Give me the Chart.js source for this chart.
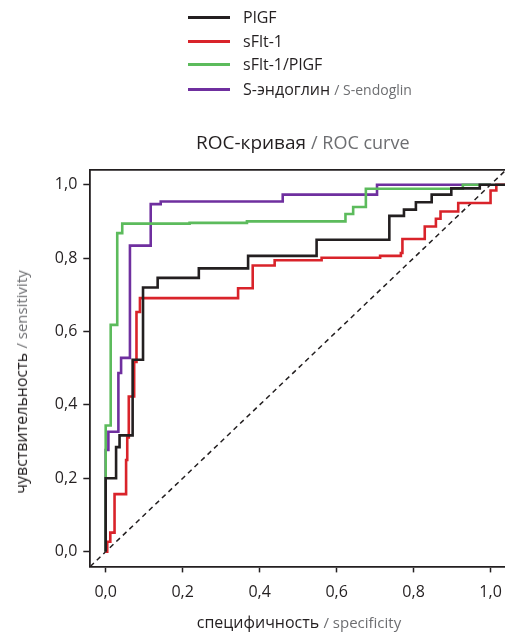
<!DOCTYPE html>
<html>
<head>
<meta charset="utf-8">
<script src="https://cdn.jsdelivr.net/npm/chart.js@4.4.1/dist/chart.umd.min.js"></script>
<style>
    html, body { margin: 0; padding: 0; width: 505px; height: 635px; overflow: hidden; background: #fff; }
    body { position: relative; font-family: 'Open Sans', sans-serif; color: #231f20; }
    #wrap { position: absolute; left: 0; top: 0; width: 512px; height: 635px; }
    .leg { position: absolute; left: 188px; height: 24px; display: flex; align-items: center; font-size: 16px; white-space: nowrap; }
    .leg i { display: inline-block; width: 42px; height: 3px; margin-right: 13px; }
    .sub { color: #6d6e71; }
    #title { position: absolute; left: 196px; top: 128px; font-size: 19px; white-space: nowrap; line-height: 28px; }
    #xtitle { position: absolute; left: 0; width: 598px; top: 610px; text-align: center; font-size: 16px; white-space: nowrap; line-height: 24px; }
    #ytitle { position: absolute; left: 21px; top: 382px; font-size: 16px; white-space: nowrap; line-height: 24px;
              transform: translate(-50%, -50%) rotate(-90deg); }
</style>
</head>
<body>
<div id="wrap"><canvas id="rocChart" width="512" height="635"></canvas></div>

<div class="leg" style="top:5px"><i style="background:#231f20"></i>PlGF</div>
<div class="leg" style="top:29px"><i style="background:#d9232a"></i>sFlt-1</div>
<div class="leg" style="top:52px"><i style="background:#5cbb5c"></i>sFlt-1/PlGF</div>
<div class="leg" style="top:77px"><i style="background:#6f2f9f"></i>S-эндоглин&nbsp;<span class="sub" style="font-size:14px">/ S-endoglin</span></div>

<div id="title">ROC-кривая <span class="sub" style="font-size:18px">/ ROC curve</span></div>
<div id="xtitle">специфичность <span class="sub" style="font-size:15px">/ specificity</span></div>
<div id="ytitle">чувствительность <span class="sub" style="font-size:15px">/ sensitivity</span></div>

<script>
// ---- data (x = specificity axis, y = sensitivity) ----
const axisTicks = [0, 0.2, 0.4, 0.6, 0.8, 1.0];

const plgfX = [0, 0, 0.027, 0.036, 0.070, 0.097, 0.135, 0.242, 0.370, 0.548, 0.737, 0.775, 0.806, 0.847, 0.898, 0.972, 1.04];
const plgfY = [0, 0.200, 0.285, 0.317, 0.523, 0.720, 0.746, 0.772, 0.806, 0.850, 0.915, 0.932, 0.952, 0.973, 0.990, 1.0, 1.0];

const sfltX = [0, 0.004, 0.012, 0.023, 0.053, 0.056, 0.060, 0.074, 0.080, 0.089, 0.344, 0.382, 0.439, 0.561, 0.713, 0.767, 0.771, 0.829, 0.858, 0.870, 0.916, 1.0, 1.015, 1.04];
const sfltY = [0, 0.027, 0.052, 0.157, 0.250, 0.311, 0.423, 0.517, 0.653, 0.691, 0.718, 0.780, 0.794, 0.801, 0.806, 0.814, 0.852, 0.886, 0.907, 0.927, 0.950, 0.984, 1.0, 1.0];

const ratioX = [0, 0, 0.013, 0.030, 0.043, 0.218, 0.367, 0.623, 0.643, 0.676, 0.928, 1.0];
const ratioY = [0, 0.344, 0.618, 0.868, 0.894, 0.896, 0.900, 0.920, 0.939, 0.989, 1.0, 1.0];

const sengX = [0, 0, 0.007, 0.033, 0.040, 0.063, 0.117, 0.143, 0.460, 0.705, 1.0];
const sengY = [0, 0.277, 0.327, 0.487, 0.528, 0.834, 0.947, 0.954, 0.973, 1.0, 1.0];

const refX = [-0.04, 1.04];
const refY = [-0.04, 1.04];

const AX_MIN = -0.04, AX_MAX = 1.04;
const INK = '#231f20';

function pts(xs, ys) {
    return xs.map((x, i) => ({ x: x, y: ys[i] }));
}

function rocSet(label, xs, ys, color) {
    return {
        label: label,
        data: pts(xs, ys),
        borderColor: color,
        borderWidth: 2.6,
        pointRadius: 0,
        stepped: 'before',
        fill: false,
    };
}

const fmt = v => v.toFixed(1).replace('.', ',');

// datasets listed first are painted on top
new Chart(document.getElementById('rocChart'), {
    type: 'line',
    data: {
        datasets: [
            rocSet('PlGF', plgfX, plgfY, INK),
            rocSet('sFlt-1', sfltX, sfltY, '#d9232a'),
            rocSet('sFlt-1/PlGF', ratioX, ratioY, '#5cbb5c'),
            rocSet('S-эндоглин', sengX, sengY, '#6f2f9f'),
            {
                label: 'ref',
                data: pts(refX, refY),
                borderColor: INK,
                borderWidth: 1.5,
                borderDash: [5, 4],
                pointRadius: 0,
                fill: false,
            },
        ],
    },
    options: {
        responsive: false,
        animation: false,
        layout: { padding: { top: 170, right: 5, bottom: 0, left: 0 } },
        plugins: {
            legend: { display: false },
            tooltip: { enabled: false },
        },
        scales: {
            x: {
                type: 'linear',
                position: 'bottom',
                min: AX_MIN,
                max: AX_MAX,
                afterBuildTicks: s => { s.ticks = axisTicks.map(v => ({ value: v })); },
                afterFit: s => { s.height = 68.6; },
                ticks: {
                    color: INK,
                    font: { family: "'Open Sans', sans-serif", size: 16 },
                    padding: 10,
                    maxRotation: 0,
                    callback: fmt,
                },
                grid: { drawOnChartArea: false, drawTicks: true, tickLength: 6, tickWidth: 1.5, tickColor: INK },
                border: { display: true, color: INK, width: 1.8 },
            },
            xTop: {
                type: 'linear',
                position: 'top',
                min: AX_MIN,
                max: AX_MAX,
                afterFit: s => { s.height = 0; },
                ticks: { display: false },
                grid: { drawOnChartArea: false, drawTicks: false },
                border: { display: true, color: INK, width: 1.8 },
            },
            y: {
                type: 'linear',
                min: AX_MIN,
                max: AX_MAX,
                afterBuildTicks: s => { s.ticks = axisTicks.map(v => ({ value: v })); },
                afterFit: s => { s.width = 90.3; },
                ticks: {
                    color: INK,
                    font: { family: "'Open Sans', sans-serif", size: 16 },
                    padding: 6,
                    callback: fmt,
                },
                grid: { drawOnChartArea: false, drawTicks: true, tickLength: 7, tickWidth: 1.5, tickColor: INK },
                border: { display: true, color: INK, width: 1.8 },
            },
        },
    },
});
</script>
</body>
</html>
